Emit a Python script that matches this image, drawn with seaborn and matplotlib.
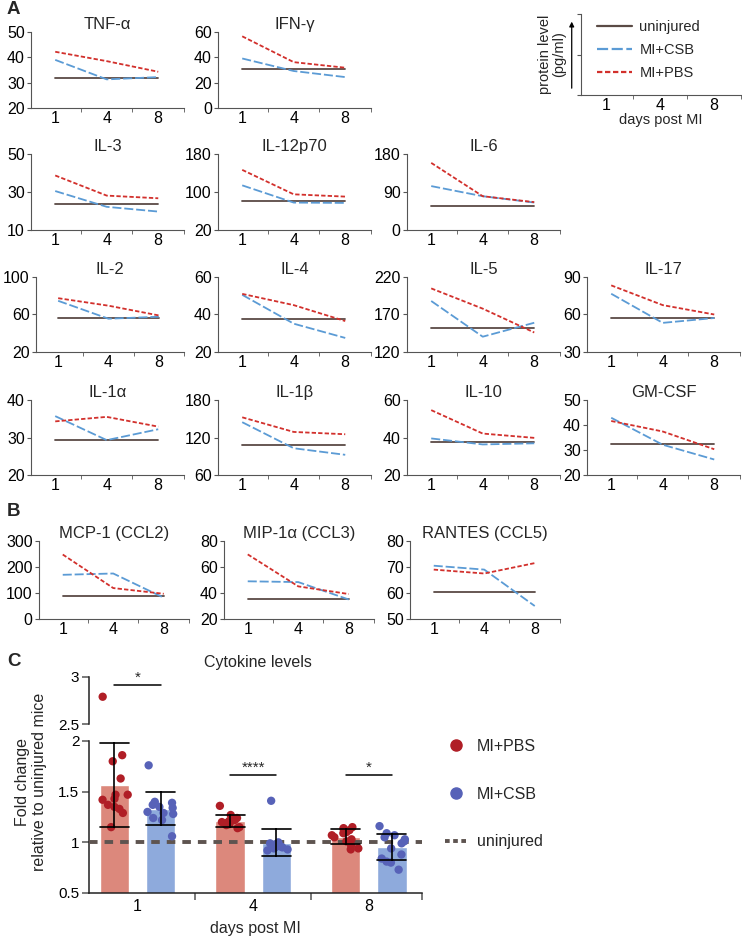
import numpy as np
import pandas as pd
import matplotlib
matplotlib.use('Agg')
import matplotlib.pyplot as plt
from matplotlib.lines import Line2D
import seaborn as sns

# ---- panel A / B : protein level per cytokine at day 1, 4, 8 ----
days = ['1', '4', '8']
cytokines = ['TNF-α', 'IFN-γ', 'IL-3', 'IL-12p70', 'IL-6', 'IL-2', 'IL-4', 'IL-5', 'IL-17',
             'IL-1α', 'IL-1β', 'IL-10', 'GM-CSF',
             'MCP-1 (CCL2)', 'MIP-1α (CCL3)', 'RANTES (CCL5)']
uninjured = [31.7, 30.5, 23.6, 81, 57, 56.5, 37.4, 151.7, 57.2,
             29.4, 108.5, 37.4, 32.3, 87, 35.6, 60.5]
csb = [[39.0, 31.3, 32.2], [39.1, 29.2, 24.4], [30.5, 22.2, 19.7], [114, 77.7, 77], [104, 80, 65],
       [74.6, 55.5, 57.6], [50.5, 35.1, 27.5], [188, 140.4, 159], [76.6, 53.3, 57.2],
       [35.7, 29.3, 32.2], [144.5, 102.8, 92.3], [39.5, 36.3, 36.9], [42.9, 32.1, 26.2],
       [170, 175, 82], [49, 48.4, 35], [70.5, 69, 55]]
pbs = [[42.2, 38.5, 34.3], [56.6, 36.2, 31.8], [38.7, 28.1, 26.7], [146.6, 95.1, 90.3], [159, 80, 66],
       [77.4, 69.4, 59], [51, 45, 36.5], [204.8, 177.8, 146], [83.3, 67.5, 60],
       [34.3, 35.5, 32.9], [152.3, 128.9, 125.2], [54.6, 42.1, 39.8], [41.6, 37.4, 30.3],
       [248, 119, 97], [69.7, 45.1, 39.2], [69, 67.5, 71.5]]
yticks = [[20, 30, 40, 50], [0, 20, 40, 60], [10, 30, 50], [20, 100, 180], [0, 90, 180],
          [20, 60, 100], [20, 40, 60], [120, 170, 220], [30, 60, 90],
          [20, 30, 40], [60, 120, 180], [20, 40, 60], [20, 30, 40, 50],
          [0, 100, 200, 300], [20, 40, 60, 80], [50, 60, 70, 80]]

# ---- panel C : fold change relative to uninjured mice ----
fold_groups = ['MI+PBS', 'MI+CSB']
pbs_fold = [[2.79, 1.86, 1.80, 1.63, 1.47, 1.47, 1.43, 1.42, 1.37, 1.35, 1.33, 1.29, 1.15],
            [1.36, 1.27, 1.24, 1.22, 1.21, 1.20, 1.20, 1.19, 1.18, 1.17, 1.15, 1.14],
            [1.15, 1.14, 1.13, 1.12, 1.10, 1.09, 1.07, 1.05, 1.03, 1.01, 0.97, 0.94, 0.93]]
csb_fold = [[1.76, 1.40, 1.39, 1.37, 1.35, 1.34, 1.30, 1.29, 1.28, 1.24, 1.22, 1.06],
            [1.41, 1.00, 0.99, 0.98, 0.97, 0.96, 0.96, 0.95, 0.95, 0.94, 0.93, 0.92],
            [1.16, 1.09, 1.07, 1.05, 1.03, 1.01, 0.99, 0.94, 0.88, 0.84, 0.81, 0.80, 0.73]]

line_colors = {'uninjured': '#5a4a45', 'MI+CSB': '#5b9bd5', 'MI+PBS': '#d2302c'}
line_dashes = {'uninjured': '', 'MI+CSB': (5, 1.6), 'MI+PBS': (2.4, 1.2)}
bar_colors = {'MI+PBS': '#dc887c', 'MI+CSB': '#8eaadc'}
dot_colors = {'MI+PBS': '#b01e26', 'MI+CSB': '#5762b8'}

sns.set_style('ticks')
plt.rcParams['font.family'] = ['Liberation Sans', 'DejaVu Sans']
plt.rcParams['axes.edgecolor'] = '#555555'
plt.rcParams['xtick.color'] = '#555555'
plt.rcParams['ytick.color'] = '#555555'
plt.rcParams['xtick.labelcolor'] = 'black'
plt.rcParams['ytick.labelcolor'] = 'black'

W, H = 742, 942
fig = plt.figure(figsize=(W / 100, H / 100), dpi=100)


def rect(l, t, r, b):
    return [l / W, 1 - b / H, (r - l) / W, (b - t) / H]


def style_small(ax):
    ax.set_xlim(-0.47, 2.5)
    ax.set_xticks([0, 1, 2])
    ax.set_xticklabels(days)
    ax.set_xticks([0.5, 1.5, 2.5], minor=True)
    ax.tick_params(axis='x', which='major', length=0, pad=2.5, labelsize=11.5)
    ax.tick_params(axis='x', which='minor', length=3)
    ax.tick_params(axis='y', length=3, pad=1.5, labelsize=11.5)
    ax.set_xlabel('')
    ax.set_ylabel('')
    sns.despine(ax=ax)


# positions of the small line charts (left, top, right, bottom in px)
col_a = [31, 218, 407, 587]
row_a = [(32, 108), (154, 230), (277, 352), (400, 475)]
layout = [(0, 0), (0, 1), (1, 0), (1, 1), (1, 2), (2, 0), (2, 1), (2, 2), (2, 3),
          (3, 0), (3, 1), (3, 2), (3, 3)]
col_b = [39, 224, 410]

for i, name in enumerate(cytokines):
    if i < 13:
        r, c = layout[i]
        t, b = row_a[r]
        l = col_a[c]
        if name == 'IL-2':
            l = 36
        box = rect(l, t, col_a[c] + 153, b)
    else:
        l = col_b[i - 13]
        box = rect(l, 541, l + 150, 619)
    ax = fig.add_axes(box)
    df = pd.DataFrame({
        'pos': [0, 1, 2] * 3,
        'value': [uninjured[i]] * 3 + csb[i] + pbs[i],
        'group': ['uninjured'] * 3 + ['MI+CSB'] * 3 + ['MI+PBS'] * 3,
    })
    sns.lineplot(data=df, x='pos', y='value', hue='group', style='group',
                 palette=line_colors, dashes=line_dashes, linewidth=1.3,
                 legend=False, ax=ax)
    ax.set_ylim(yticks[i][0], yticks[i][-1])
    ax.set_yticks(yticks[i])
    style_small(ax)
    if name == 'IL-2':
        ax.set_xlim(-0.44, 2.5)
    ax.set_title(name, fontsize=12, pad=1)

# key axes (top right)
axk = fig.add_axes(rect(581, 14, 741, 95))
axk.set_ylim(0, 1)
axk.set_yticks([0, 0.5, 1])
axk.set_yticklabels([])
style_small(axk)
axk.set_xlabel('days post MI', fontsize=10.5, labelpad=0)
axk.annotate('', xy=(-0.058, 0.94), xytext=(-0.058, 0.05), xycoords='axes fraction',
             arrowprops=dict(arrowstyle='-|>', color='black', lw=0.9, mutation_scale=7))
axk.text(-0.18, 0.5, 'protein level\n(pg/ml)', rotation=90, ha='center', va='center',
         transform=axk.transAxes, fontsize=10.5, linespacing=1.0)
key_handles = [Line2D([], [], color=line_colors[g], lw=1.6,
                      dashes=line_dashes[g] if line_dashes[g] else (None, None), label=g)
               for g in ['uninjured', 'MI+CSB', 'MI+PBS']]
key_handles[0].set_linestyle('-')
axk.legend(handles=key_handles, loc='upper left', bbox_to_anchor=(0.1, 0.93),
           frameon=False, fontsize=10.5, handlelength=2.4, handletextpad=0.5,
           labelspacing=0.62, borderaxespad=0, borderpad=0)

# ---- panel C ----
rows = []
for g, vals in (('MI+PBS', pbs_fold), ('MI+CSB', csb_fold)):
    for d, v in zip(days, vals):
        rows += [(d, g, x) for x in v]
fold = pd.DataFrame(rows, columns=['day', 'group', 'fold'])

ax_lo = fig.add_axes(rect(89, 741, 422, 893))
ax_hi = fig.add_axes(rect(89, 677, 422, 724))

sns.barplot(data=fold, x='day', y='fold', hue='group', order=days, hue_order=fold_groups,
            palette=bar_colors, errorbar='sd', capsize=0.5, gap=0.37, saturation=1,
            err_kws={'color': 'black', 'linewidth': 1.2, 'zorder': 5},
            legend=False, ax=ax_lo)
for ax in (ax_lo, ax_hi):
    np.random.seed(7)
    sns.stripplot(data=fold, x='day', y='fold', hue='group', order=days, hue_order=fold_groups,
                  palette=dot_colors, dodge=True, jitter=0.24, size=6, legend=False,
                  ax=ax, zorder=4)
    ax.set_xlim(-0.42, 2.46)
    ax.set_xlabel('')
    ax.set_ylabel('')
    ax.tick_params(axis='y', length=5, pad=2, labelsize=11, width=1.1)

ax_lo.axhline(1, color='#5e5450', lw=2.8, dashes=(2.2, 1.8), zorder=3)
ax_lo.set_ylim(0.5, 2.0)
ax_lo.set_yticks([0.5, 1, 1.5, 2])
ax_lo.set_yticklabels(['0.5', '1', '1.5', '2'])
ax_lo.set_xticks([0, 1, 2])
ax_lo.set_xticklabels(days)
ax_lo.set_xticks([0.5, 1.5, 2.46], minor=True)
ax_lo.tick_params(axis='x', which='major', length=0, pad=4, labelsize=11.5)
ax_lo.tick_params(axis='x', which='minor', length=5, width=1.1)
ax_lo.set_xlabel('days post MI', fontsize=11.5, labelpad=5)
for s in ('left', 'bottom'):
    ax_lo.spines[s].set_linewidth(1.1)
    ax_lo.spines[s].set_color('#222222')
sns.despine(ax=ax_lo)

ax_hi.set_ylim(2.5, 3.0)
ax_hi.set_yticks([2.5, 3])
ax_hi.set_yticklabels(['2.5', '3'])
ax_hi.set_xticks([])
ax_hi.spines['left'].set_linewidth(1.1)
ax_hi.spines['left'].set_color('#222222')
sns.despine(ax=ax_hi, bottom=True)
ax_hi.patch.set_alpha(0)

# significance bars
ax_hi.plot([-0.2, 0.2], [2.91, 2.91], color='black', lw=1.1)
ax_hi.text(0, 2.915, '*', ha='center', va='bottom', fontsize=11)
for x0, stars in ((1, '****'), (2, '*')):
    ax_lo.plot([x0 - 0.2, x0 + 0.2], [1.66, 1.66], color='black', lw=1.1)
    ax_lo.text(x0, 1.665, stars, ha='center', va='bottom', fontsize=11)

fig.text(258 / W, 1 - 662 / H, 'Cytokine levels', ha='center', va='center', fontsize=11.5)
fig.text(31 / W, 1 - 782 / H, 'Fold change\nrelative to uninjured mice', rotation=90,
         ha='center', va='center', fontsize=11.5, linespacing=1.1)

c_handles = [Line2D([], [], marker='o', color=dot_colors['MI+PBS'], ls='none', ms=8, label='MI+PBS'),
             Line2D([], [], marker='o', color=dot_colors['MI+CSB'], ls='none', ms=8, label='MI+CSB'),
             Line2D([], [], color='#5e5450', lw=2.8, dashes=(1.2, 0.9), label='uninjured')]
fig.legend(handles=c_handles, loc='upper left', bbox_to_anchor=(445 / W, 1 - 739 / H),
           frameon=False, fontsize=11.5, handlelength=1.4, handletextpad=0.6,
           labelspacing=2.05, borderaxespad=0, borderpad=0)

# panel letters
for txt, y in (('A', 9), ('B', 512), ('C', 662)):
    fig.text(7 / W, 1 - y / H, txt, ha='left', va='center', fontsize=13.5, fontweight='bold')

fig.savefig('out.png', dpi=100)
